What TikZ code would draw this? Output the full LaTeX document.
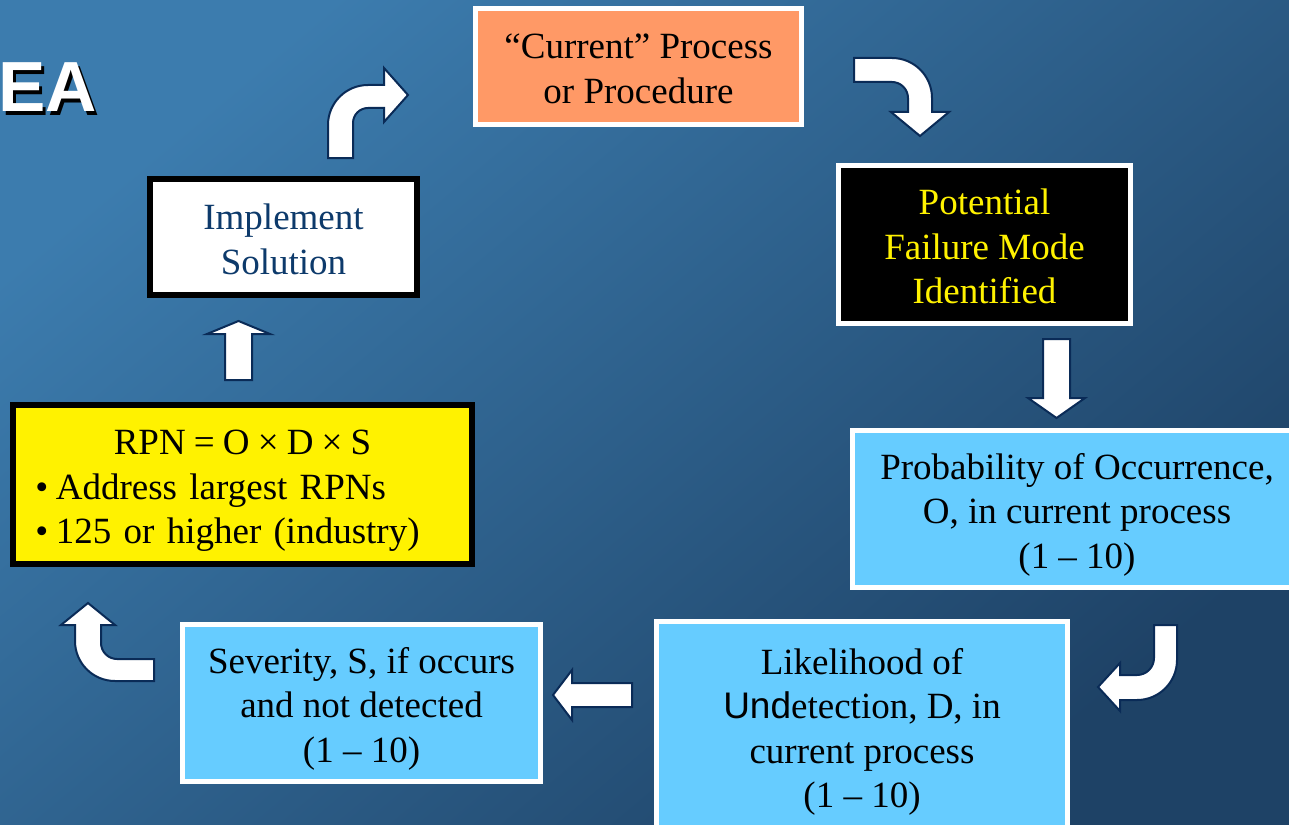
\documentclass[tikz,border=0pt]{standalone}
\usepackage{fontspec}
\setmainfont{Liberation Serif}
\setsansfont{Liberation Sans}
\definecolor{bgA}{HTML}{3C7CAE}
\definecolor{bgB}{HTML}{1E4266}
\definecolor{navy}{HTML}{0A2B57}
\definecolor{orangebox}{HTML}{FF9966}
\definecolor{bluebox}{HTML}{66CCFF}
\definecolor{impltext}{HTML}{0D3A6B}
\newcommand\fstrut{\rule{0pt}{29.5pt}}
\begin{document}
\begin{tikzpicture}[x=1pt,y=-1pt,
  box/.style={draw=white, line width=5pt, inner sep=0pt, align=center,
    font=\fontsize{37}{44.5}\selectfont},
  arr/.style={fill=white, draw=navy, line width=2pt, line join=miter},
  eafont/.style={font=\fontsize{71}{71}\selectfont\sffamily\bfseries, anchor=base east, inner sep=0pt}]
\useasboundingbox (0,0) rectangle (1289,824);
\shade[top color=bgA, bottom color=bgB, shading angle=40] (0,0) rectangle (1289,824);

% title fragment
\node[eafont, text=black] (eashadow) at (100,115) {EA};
\node[eafont, text=white] (ea) at (97,112) {EA};

% boxes
\node[box, fill=orangebox, minimum width=326pt, minimum height=116pt] (cur) at (638.5,66.5) {\fstrut“Current” Process\\\smash{or Procedure}};
\node[box, fill=black, text=yellow, minimum width=292pt, minimum height=158pt] (pot) at (984.5,244.5) {\fstrut Potential\\Failure Mode\\\smash{Identified}};
\node[box, fill=bluebox, minimum width=449pt, minimum height=157pt] (prob) at (1077,509) {\fstrut Probability of Occurrence,\\O, in current process\\\smash{(1 – 10)}};
\node[box, fill=bluebox, minimum width=411pt, minimum height=209pt] (like) at (862,726) {\fstrut Likelihood of\\{\sffamily Und}etection, D, in\\current process\\\smash{(1 – 10)}};
\node[box, fill=bluebox, minimum width=358pt, minimum height=157pt] (sev) at (361.5,703) {\fstrut Severity, S, if occurs\\and not detected\\\smash{(1 – 10)}};
\node[box, draw=black, fill=yellow, line width=6pt, minimum width=459pt, minimum height=159pt, align=left, text width=440pt] (rpn) at (242.5,484.5) {\makebox[440pt][c]{\fstrut RPN\hspace{0.22em}=\hspace{0.22em}O\hspace{0.22em}×\hspace{0.22em}D\hspace{0.22em}×\hspace{0.22em}S}\\\hspace*{13pt}•\hspace{0.2em}Address largest RPNs\\\hspace*{13pt}\smash{•\hspace{0.2em}125 or higher (industry)}};
\node[box, draw=black, fill=white, text=impltext, line width=6pt, minimum width=267pt, minimum height=116pt] (impl) at (283.5,237) {\fstrut Implement\\\smash{Solution}};

% block arrows
\draw[arr] (328,158) -- (328,125) .. controls (328,102.9) and (345.9,85) .. (368,85) -- (384,85) -- (384,68) -- (408,95) -- (384,122) -- (384,108) -- (368,108) .. controls (359.7,108) and (353,114.7) .. (353,123) -- (353,158) -- cycle;
\draw[arr] (854,58) -- (892,58) .. controls (914.1,58) and (932,75.9) .. (932,98) -- (932,112) -- (949,112) -- (920,136) -- (891,112) -- (908,112) -- (908,98) .. controls (908,89.2) and (900.8,82) .. (892,82) -- (854,82) -- cycle;
\draw[arr] (1043,339) -- (1070,339) -- (1070,398) -- (1085,398) -- (1056.5,418) -- (1028,398) -- (1043,398) -- cycle;
\draw[arr] (1177,625) -- (1177,660) .. controls (1177,682.1) and (1159.1,700) .. (1137,700) -- (1120,700) -- (1120,711) -- (1098,687) -- (1120,663) -- (1120,675) -- (1137,675) .. controls (1146.4,675) and (1154,667.4) .. (1154,658) -- (1154,625) -- cycle;
\draw[arr] (632,683) -- (632,707) -- (572,707) -- (572,720) -- (553,695) -- (572,670) -- (572,683) -- cycle;
\draw[arr] (154,681) -- (115,681) .. controls (92.9,681) and (75,663.1) .. (75,641) -- (75,625) -- (61,625) -- (88,603) -- (115,625) -- (101,625) -- (101,643) .. controls (101,651.8) and (108.2,659) .. (117,659) -- (154,659) -- cycle;
\draw[arr] (225,380) -- (225,334) -- (207,334) -- (238.5,321) -- (270,334) -- (252,334) -- (252,380) -- cycle;
\end{tikzpicture}
\end{document}
